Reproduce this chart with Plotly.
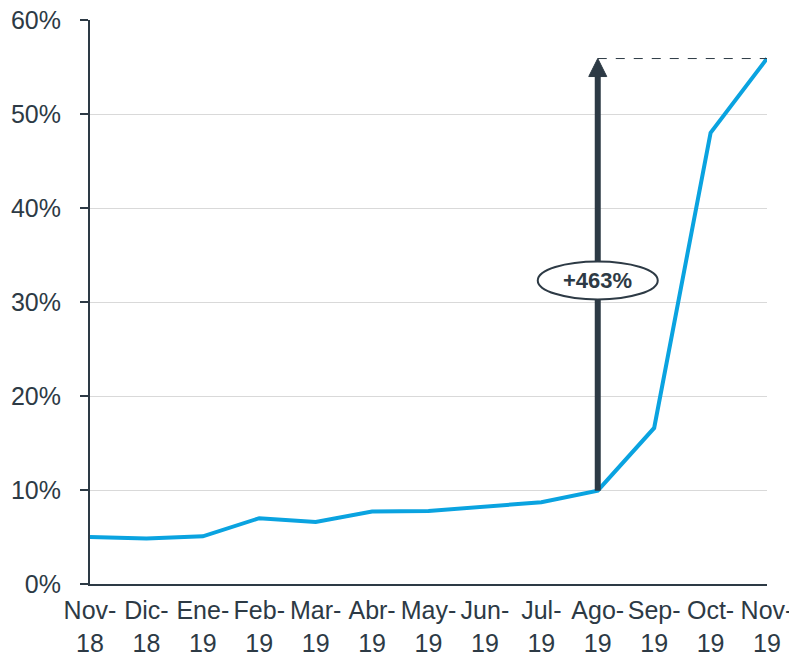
import plotly.graph_objects as go

# ---------------------------------------------------------------------------
# Datos
# ---------------------------------------------------------------------------
MESES = ["Nov-<br>18", "Dic-<br>18", "Ene-<br>19", "Feb-<br>19", "Mar-<br>19",
         "Abr-<br>19", "May-<br>19", "Jun-<br>19", "Jul-<br>19", "Ago-<br>19",
         "Sep-<br>19", "Oct-<br>19", "Nov-<br>19"]
VALORES = [5.0, 4.85, 5.07, 7.0, 6.6, 7.7, 7.77, 8.2, 8.7, 9.93, 16.6, 48.0, 55.9]
ETIQUETA = "+463%"

TEXT_COLOR = "#2d3a45"
LINE_COLOR = "#0aa3e0"
GRID_COLOR = "#d9d9d9"

# la página añade 8px de margen al body
ANCHO, ALTO = 789, 647
MARGEN = dict(l=82, r=30, t=12, b=71)
Y_MAX = 60.0001  # un pelo más para que se dibuje el tick/grid de 60%

i_ago = MESES.index("Ago-<br>19")
i_fin = len(MESES) - 1
v_ini = VALORES[i_ago]
v_fin = VALORES[i_fin]

fig = go.Figure()
fig.add_trace(go.Scatter(
    x=list(range(len(MESES))), y=VALORES, mode="lines",
    line=dict(color=LINE_COLOR, width=4),
    hoverinfo="skip", showlegend=False,
))

# línea punteada del máximo
fig.add_shape(type="line", x0=i_ago, x1=i_fin, y0=v_fin, y1=v_fin,
              line=dict(color=TEXT_COLOR, width=1, dash="dash"), layer="above")

# elipse con etiqueta (a media altura de la flecha)
y_elipse = 32.3
alto_px = 19  # semieje vertical de la elipse, en px
px_por_pct = (ALTO - MARGEN["t"] - MARGEN["b"]) / 60
hueco = alto_px / px_por_pct

# flecha: cuerpo (en dos tramos, sin cruzar la elipse) + punta
fig.add_shape(type="line", x0=i_ago, x1=i_ago, y0=v_ini, y1=y_elipse - hueco,
              line=dict(color=TEXT_COLOR, width=6), layer="above")
fig.add_shape(type="line", x0=i_ago, x1=i_ago, y0=y_elipse + hueco,
              y1=v_fin - 17 / px_por_pct,
              line=dict(color=TEXT_COLOR, width=6), layer="above")
fig.add_shape(type="path", xsizemode="pixel", ysizemode="pixel",
              xanchor=i_ago, yanchor=v_fin,
              path="M -9,-18 L 9,-18 L 0,0 Z",
              fillcolor=TEXT_COLOR, line=dict(color=TEXT_COLOR, width=1),
              layer="above")
fig.add_shape(type="circle", xsizemode="pixel", ysizemode="pixel",
              xanchor=i_ago, yanchor=y_elipse,
              x0=-60, x1=60, y0=-alto_px, y1=alto_px,
              fillcolor="white", line=dict(color=TEXT_COLOR, width=2),
              layer="above")
fig.add_annotation(x=i_ago, y=y_elipse, text=f"<b>{ETIQUETA}</b>",
                   showarrow=False,
                   font=dict(family="Liberation Sans, Arial", size=22,
                             color=TEXT_COLOR))

fig.update_layout(
    width=ANCHO, height=ALTO,
    plot_bgcolor="white", paper_bgcolor="white",
    font=dict(family="Liberation Sans, Arial, sans-serif", size=25,
              color=TEXT_COLOR),
    margin=MARGEN,
)
fig.update_xaxes(
    range=[0, i_fin], tickvals=list(range(len(MESES))), ticktext=MESES,
    showgrid=False, zeroline=False, showline=True, linecolor=TEXT_COLOR,
    linewidth=2, ticks="", tickangle=0, automargin=False,
    ticklabelstandoff=3, ticklabeloverflow="allow",
)
fig.update_yaxes(
    range=[0, Y_MAX], dtick=10, ticksuffix="%", showgrid=True,
    gridcolor=GRID_COLOR, gridwidth=1, zeroline=False, showline=True,
    linecolor=TEXT_COLOR, linewidth=2, ticks="outside", ticklen=8,
    tickcolor=TEXT_COLOR, tickwidth=2, ticklabelstandoff=14, automargin=False,
    ticklabeloverflow="allow",
)

fig.write_html("out.html")
